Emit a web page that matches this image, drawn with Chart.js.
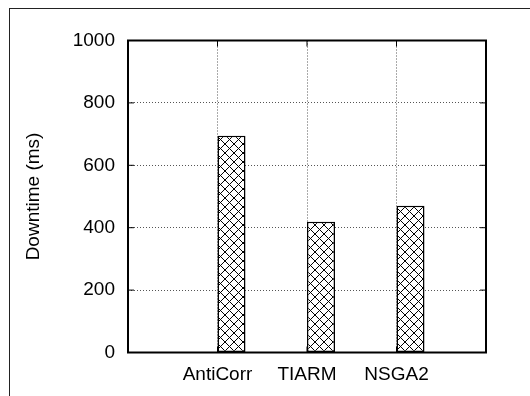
<!DOCTYPE html>
<html>
<head>
<meta charset="utf-8">
<script src="https://cdn.jsdelivr.net/npm/chart.js@4/dist/chart.umd.min.js"></script>
<style>
  html, body { margin: 0; padding: 0; background: #fff; overflow: hidden; }
  #wrap { position: relative; width: 530px; height: 396px; }
  #frame {
    position: absolute; left: 9px; top: 8px; width: 540px; height: 400px;
    border: 1px solid #222; box-sizing: border-box;
  }
  #grafico { position: absolute; left: 0; top: 0; }
</style>
</head>
<body>
<div id="wrap">
  <div id="frame"></div>
  <canvas id="grafico" width="530" height="396"></canvas>
</div>
<script>
const categorias = ['AntiCorr', 'TIARM', 'NSGA2']
const downtime = [695, 419, 470]
const yTicks = [0, 200, 400, 600, 800, 1000]

// one empty slot on each side, like the gnuplot x range
const rotulos = ['', ...categorias, '']
const valores = [null, ...downtime, null]
const vazio = rotulos.map(() => null)

const FONTE = { family: "'Liberation Sans', Arial, sans-serif", size: 19 }

// ── Hachura cruzada ─────────────────────────────────────────────────────────

function criarHachura() {
  const tile = document.createElement('canvas')
  tile.width = 9
  tile.height = 9
  const c = tile.getContext('2d')
  c.fillStyle = '#fff'
  c.fillRect(0, 0, 9, 9)
  c.strokeStyle = '#000'
  c.lineWidth = 1
  c.beginPath()
  c.moveTo(-1, -1)
  c.lineTo(10, 10)
  c.moveTo(10, -1)
  c.lineTo(-1, 10)
  c.stroke()
  return c.createPattern(tile, 'repeat')
}

// ── Moldura e marcas internas (estilo gnuplot) ──────────────────────────────

const moldura = {
  id: 'moldura',
  afterDraw(chart) {
    const { ctx, chartArea: a, scales } = chart
    ctx.save()
    ctx.strokeStyle = '#000'
    ctx.lineWidth = 1
    ctx.beginPath()
    const t = 6
    scales.y.ticks.forEach((tk) => {
      const y = scales.y.getPixelForValue(tk.value)
      ctx.moveTo(a.left, y)
      ctx.lineTo(a.left + t, y)
      ctx.moveTo(a.right, y)
      ctx.lineTo(a.right - t, y)
    })
    rotulos.forEach((r, i) => {
      if (!r) return
      const x = scales.x.getPixelForTick(i)
      ctx.moveTo(x, a.top)
      ctx.lineTo(x, a.top + t)
      ctx.moveTo(x, a.bottom)
      ctx.lineTo(x, a.bottom - t)
    })
    ctx.stroke()
    ctx.lineWidth = 2
    ctx.strokeRect(a.left, a.top, a.right - a.left, a.bottom - a.top)
    ctx.restore()
  },
}

const ctx = document.getElementById('grafico')
const hachura = criarHachura()

new Chart(ctx, {
  type: 'bar',
  data: {
    labels: rotulos,
    datasets: [
      { label: '', data: vazio },
      {
        label: 'Downtime (ms)',
        data: valores,
        backgroundColor: hachura,
        borderColor: '#000',
        borderWidth: 1.5,
        borderSkipped: false,
        barPercentage: 1,
        categoryPercentage: 0.6257,
      },
    ],
  },
  options: {
    responsive: false,
    animation: false,
    devicePixelRatio: 1,
    layout: { padding: { left: 0, top: 40.5, right: 44, bottom: 0 } },
    plugins: { legend: { display: false }, tooltip: { enabled: false } },
    scales: {
      x: {
        offset: false,
        grid: { color: '#555', lineWidth: 1, drawTicks: false, offset: false },
        border: { display: false, dash: [1, 2] },
        ticks: { color: '#000', font: FONTE, padding: 11, maxRotation: 0, autoSkip: false },
        afterFit: (s) => { s.height = 43.5 },
      },
      y: {
        min: 0,
        max: 1000,
        afterBuildTicks: (s) => { s.ticks = yTicks.map((v) => ({ value: v })) },
        grid: { color: '#555', lineWidth: 1, drawTicks: false },
        border: { display: false, dash: [1, 2] },
        ticks: { color: '#000', font: FONTE, padding: 13, callback: (v) => String(v) },
        title: {
          display: true,
          text: 'Downtime (ms)',
          color: '#000',
          font: FONTE,
          padding: { top: 22, bottom: 0 },
        },
        afterFit: (s) => { s.width = 128 },
      },
    },
  },
  plugins: [moldura],
})
</script>
</body>
</html>
